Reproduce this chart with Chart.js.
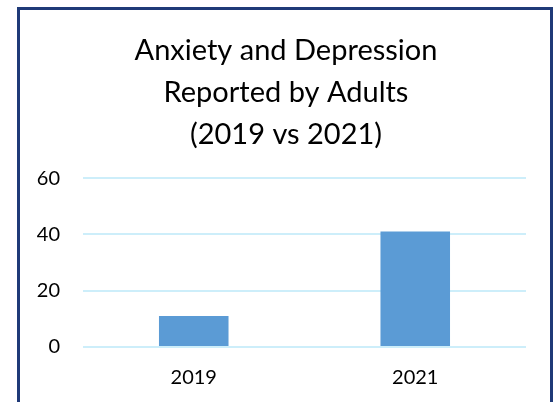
<!DOCTYPE html>
<html>
<head>
<meta charset="utf-8">
<script src="https://cdn.jsdelivr.net/npm/chart.js@4/dist/chart.umd.min.js"></script>
<style>
    html, body { margin: 0; padding: 0; background: #fff; }
    #wrap { position: relative; width: 555px; height: 402px; overflow: hidden; }
    #frame {
        position: absolute; left: 17px; top: 7px; width: 530px; height: 420px;
        border: 3px solid #1f3a78; box-sizing: content-box;
    }
    #chart { position: absolute; left: 0; top: 0; }
</style>
</head>
<body>
<div id="wrap">
    <div id="frame"></div>
    <canvas id="chart" width="555" height="402"></canvas>
</div>
<script>
const titleLines = ['Anxiety and Depression', 'Reported by Adults', '(2019 vs 2021)'];
const years = ['2019', '2021'];
const reported = [11, 41];
const yTicks = [0, 20, 40, 60];

const FONT = 'Lato, "Liberation Sans", sans-serif';

// the title in the original sits over the frame, not over the plot area
const titleShift = {
    id: 'titleShift',
    afterLayout(chart) {
        chart.titleBlock.left = 46;
        chart.titleBlock.right = 526;
    }
};

const ctx = document.getElementById('chart');

new Chart(ctx, {
    type: 'bar',
    data: {
        labels: years,
        datasets: [{
            label: 'Reported',
            data: reported,
            backgroundColor: '#5b9bd5',
            categoryPercentage: 1,
            barPercentage: 0.314
        }]
    },
    plugins: [titleShift],
    options: {
        responsive: false,
        animation: false,
        layout: { padding: { left: 0, right: 29, top: 0, bottom: 12 } },
        plugins: {
            legend: { display: false },
            tooltip: { enabled: false },
            title: {
                display: true,
                text: titleLines,
                color: '#000',
                font: { family: FONT, size: 29, weight: 'normal', lineHeight: 1.45 },
                padding: { top: 30, bottom: 22 }
            }
        },
        scales: {
            x: {
                afterFit(scale) { scale.height = 43; },
                grid: { display: false, drawTicks: false },
                border: { display: false },
                ticks: { color: '#000', padding: 19, font: { family: FONT, size: 20 } }
            },
            y: {
                min: 0,
                max: 60,
                afterBuildTicks(scale) { scale.ticks = yTicks.map(v => ({ value: v })); },
                afterFit(scale) { scale.width = 83; },
                grid: { color: '#cdeefa', lineWidth: 2, drawTicks: false },
                border: { display: false },
                ticks: { color: '#000', padding: 23, font: { family: FONT, size: 20 } }
            }
        }
    }
});
</script>
</body>
</html>
